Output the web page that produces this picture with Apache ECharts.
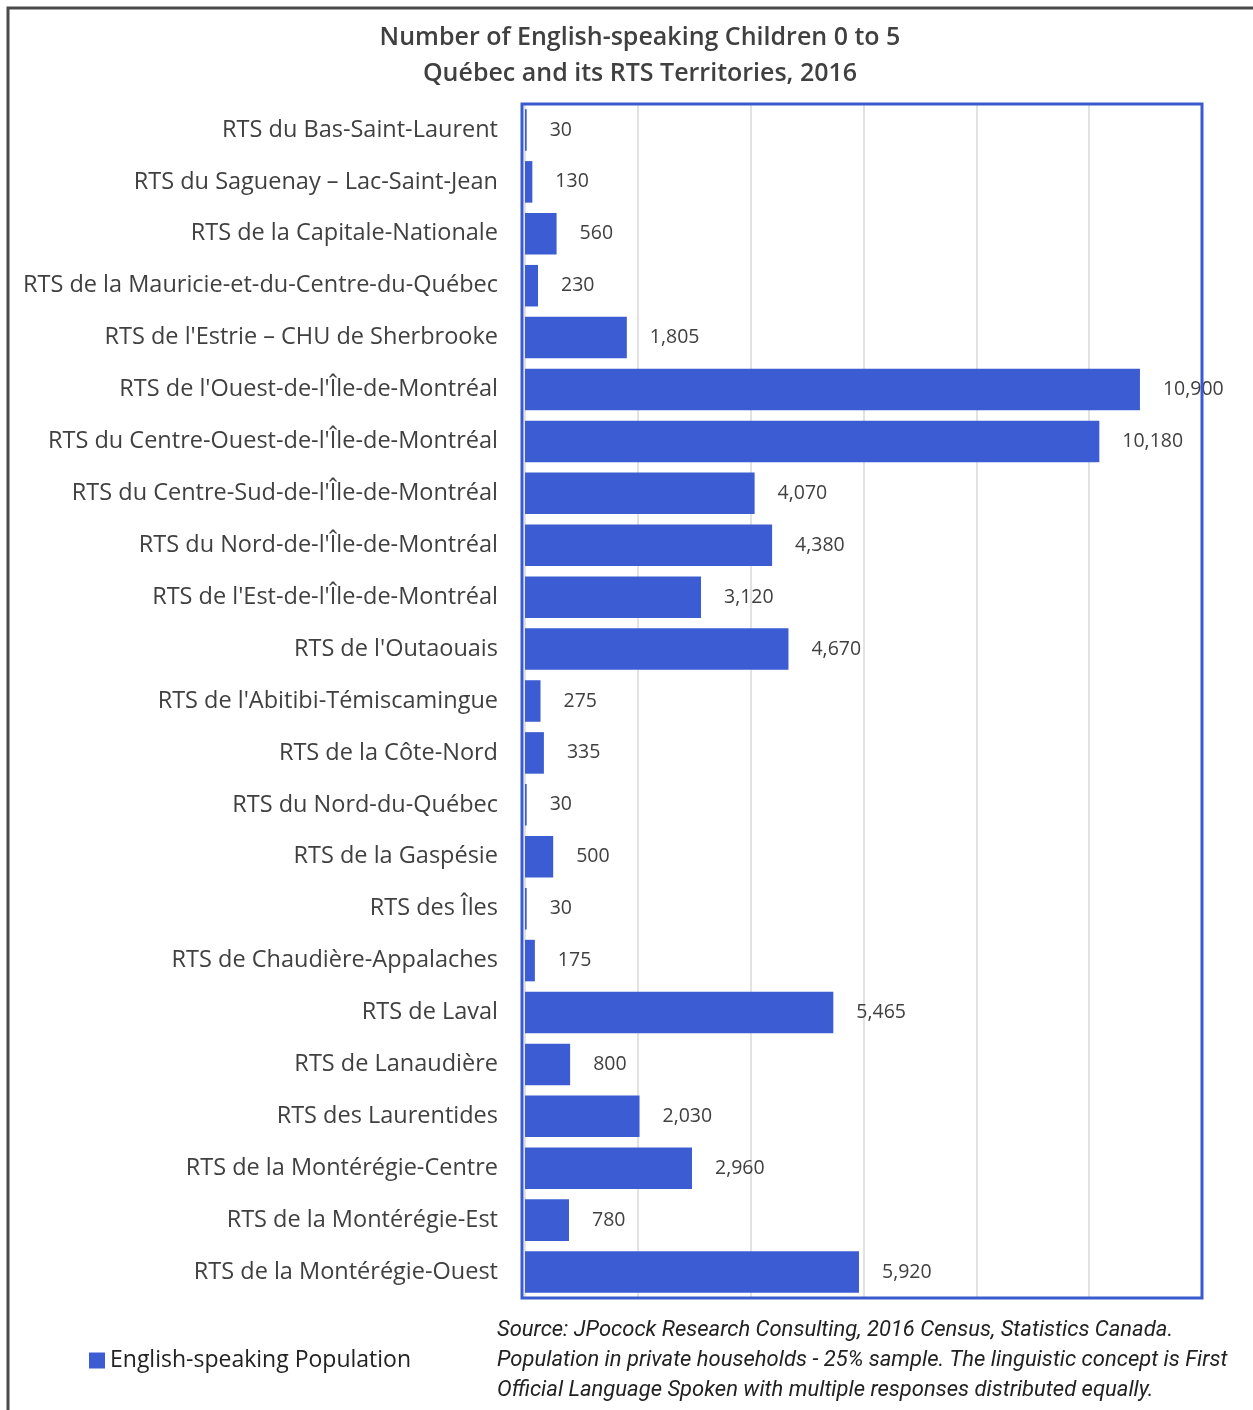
<!DOCTYPE html>
<html>
<head>
<meta charset="utf-8">
<script src="https://cdn.jsdelivr.net/npm/echarts@6/dist/echarts.min.js"></script>
<style>
  html, body { margin: 0; padding: 0; background: #fff; }
  #main { width: 1253px; height: 1410px; }
</style>
</head>
<body>
<div id="main"></div>
<script>
// territoires RTS (ordre du haut vers le bas)
const territories = [
  "RTS du Bas-Saint-Laurent",
  "RTS du Saguenay – Lac-Saint-Jean",
  "RTS de la Capitale-Nationale",
  "RTS de la Mauricie-et-du-Centre-du-Québec",
  "RTS de l'Estrie – CHU de Sherbrooke",
  "RTS de l'Ouest-de-l'Île-de-Montréal",
  "RTS du Centre-Ouest-de-l'Île-de-Montréal",
  "RTS du Centre-Sud-de-l'Île-de-Montréal",
  "RTS du Nord-de-l'Île-de-Montréal",
  "RTS de l'Est-de-l'Île-de-Montréal",
  "RTS de l'Outaouais",
  "RTS de l'Abitibi-Témiscamingue",
  "RTS de la Côte-Nord",
  "RTS du Nord-du-Québec",
  "RTS de la Gaspésie",
  "RTS des Îles",
  "RTS de Chaudière-Appalaches",
  "RTS de Laval",
  "RTS de Lanaudière",
  "RTS des Laurentides",
  "RTS de la Montérégie-Centre",
  "RTS de la Montérégie-Est",
  "RTS de la Montérégie-Ouest"
]

// English-speaking Population
const children = [30, 130, 560, 230, 1805, 10900, 10180, 4070, 4380, 3120, 4670,
  275, 335, 30, 500, 30, 175, 5465, 800, 2030, 2960, 780, 5920]

const titleLines = ["Number of English-speaking Children 0 to 5", "Québec and its RTS Territories, 2016"]
const sourceLines = [
  "Source: JPocock Research Consulting, 2016 Census, Statistics Canada.",
  "Population in private households - 25% sample. The linguistic concept is First",
  "Official Language Spoken with multiple responses distributed equally."
]

let chart = echarts.init(document.getElementById('main'), null, { renderer: 'canvas' })

let option = {
  backgroundColor: '#fff',
  animation: false,
  title: {
    text: titleLines.join('\n'),
    left: 635,
    textAlign: 'center',
    top: 15,
    textStyle: {
      fontFamily: 'Open Sans',
      fontSize: 25,
      fontWeight: 600,
      color: '#404040',
      lineHeight: 36
    }
  },
  legend: {
    data: ['English-speaking Population'],
    left: 84,
    top: 1344,
    icon: 'rect',
    itemWidth: 16,
    itemHeight: 16,
    itemGap: 6,
    textStyle: { fontFamily: 'Open Sans', fontSize: 23, color: '#222' }
  },
  grid: {
    left: 525,
    right: 51,
    top: 104,
    bottom: 112,
    containLabel: false
  },
  xAxis: {
    type: 'value',
    min: 0,
    max: 12000,
    interval: 2000,
    axisLabel: { show: false },
    axisLine: { show: false },
    axisTick: { show: false },
    splitLine: { lineStyle: { color: '#d9d9d9', width: 1.5 } }
  },
  yAxis: {
    type: 'category',
    inverse: true,
    data: territories,
    axisLine: { show: false },
    axisTick: { show: false },
    axisLabel: {
      margin: 27,
      fontFamily: 'Open Sans',
      fontSize: 23.5,
      color: '#404040'
    }
  },
  series: [{
    name: 'English-speaking Population',
    type: 'bar',
    data: children,
    barCategoryGap: '20%',
    itemStyle: { color: '#3b5cd2' },
    label: {
      show: true,
      position: 'right',
      distance: 23,
      fontFamily: 'Open Sans',
      fontSize: 19.5,
      color: '#404040',
      formatter: p => p.value.toLocaleString('en-US')
    }
  }],
  graphic: [
    {
      type: 'rect',
      shape: { x: 8, y: 8, width: 1250, height: 1420 },
      style: { fill: null, stroke: '#4a4a4a', lineWidth: 3 },
      silent: true
    },
    {
      // cadre bleu de la zone de tracé
      type: 'rect',
      z: 100,
      shape: { x: 522, y: 104, width: 680, height: 1194 },
      style: { fill: null, stroke: '#3a5bd0', lineWidth: 3 },
      silent: true
    },
    {
      type: 'text',
      left: 497,
      top: 1315,
      style: {
        text: sourceLines.join('\n'),
        fontFamily: 'Roboto',
        fontStyle: 'italic',
        fontSize: 22,
        lineHeight: 30,
        fill: '#222'
      }
    }
  ]
}

chart.setOption(option)
window.addEventListener("resize", function () {
  chart.resize()
})
</script>
</body>
</html>
